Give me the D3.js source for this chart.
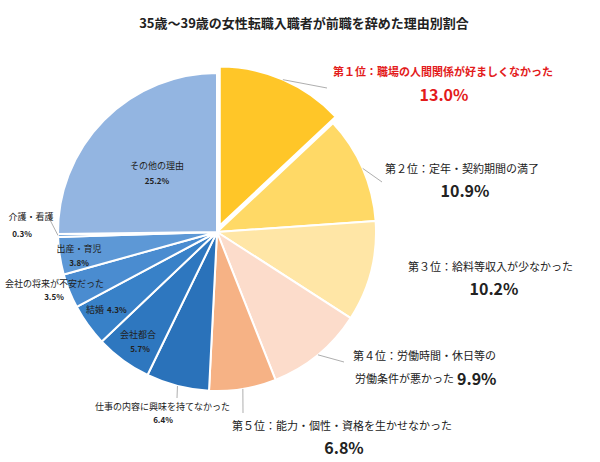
<!DOCTYPE html>
<html><head><meta charset="utf-8">
<script src="https://cdn.jsdelivr.net/npm/d3@7"></script>
<style>body{margin:0;background:#fff}svg{display:block}text{font-family:"Noto Sans CJK JP","Noto Sans",sans-serif}</style>
</head><body>
<svg id="c" width="600" height="462"></svg>
<script>
const title = "35歳～39歳の女性転職入職者が前職を辞めた理由別割合";
const categories = ["職場の人間関係が好ましくなかった","定年・契約期間の満了","給料等収入が少なかった","労働時間・休日等の労働条件が悪かった","能力・個性・資格を生かせなかった","仕事の内容に興味を持てなかった","会社都合","結婚","会社の将来が不安だった","出産・育児","介護・看護","その他の理由"];
const values = [13.0,10.9,10.2,9.9,6.8,6.4,5.7,4.3,3.5,3.8,0.3,25.2];
const colors = ["#FFC628","#FFD966","#FFE6A6","#FCDCCB","#F6B285","#2A72BA","#2E77BF","#3881C8","#4A8CD0","#5D98D6","#6FA3DA","#93B5E1"];

const W=600,H=462,cx=217,cy=232,R=159,explode=7;
const svg=d3.select("#c");
svg.append("text").attr("x",304).attr("y",22).attr("text-anchor","middle").attr("dominant-baseline","central")
  .attr("font-size",13).attr("font-weight","bold").attr("fill","#222").text(title);

const pie=d3.pie().sort(null).value(d=>d)(values);
const arc=d3.arc().innerRadius(0).outerRadius(R);
const g=svg.append("g").attr("transform",`translate(${cx},${cy})`);
function off(d,i){ if(i!==0) return [0,0]; const a=(d.startAngle+d.endAngle)/2; return [Math.sin(a)*explode,-Math.cos(a)*explode]; }
g.selectAll("path").data(pie).join("path")
  .attr("d",arc).attr("fill",(d,i)=>colors[i])
  .attr("stroke","#fff").attr("stroke-width",2).attr("stroke-linejoin","round")
  .attr("transform",(d,i)=>{const o=off(d,i);return `translate(${o[0]},${o[1]})`;});

// leader lines: start on slice edge at mid angle, end near label
const leaders=[[0,327,88],[1,382,182],[3,344,362],[4,243,413],[5,177,398],[10,49,218]];
leaders.forEach(([i,ex,ey])=>{
  const d=pie[i],a=(d.startAngle+d.endAngle)/2,o=off(d,i);
  const sx=cx+o[0]+Math.sin(a)*R, sy=cy+o[1]-Math.cos(a)*R;
  svg.append("line").attr("x1",sx).attr("y1",sy).attr("x2",ex).attr("y2",ey).attr("stroke","#999").attr("stroke-width",0.8);
});

function t(x,y,str,size,opts={}){
  return svg.append("text").attr("x",x).attr("y",y).attr("dominant-baseline","central")
   .attr("text-anchor",opts.anchor||"start").attr("font-size",size)
   .attr("font-weight",opts.bold?"bold":"normal").attr("fill",opts.fill||"#222").text(str);
}
const pct=i=>values[i].toFixed(1)+"%";
const rank=["第１位：","第２位：","第３位：","第４位：","第５位："];
// big labels
t(333,71,rank[0]+categories[0],11,{bold:true,fill:"#E31B1B"});
t(444,94,pct(0),16,{bold:true,anchor:"middle",fill:"#E31B1B"});
t(385,168,rank[1]+categories[1],11);
t(465,190,pct(1),16,{bold:true,anchor:"middle"});
t(408,266,rank[2]+categories[2],11);
t(494,288,pct(2),16,{bold:true,anchor:"middle"});
t(353,355,rank[3]+categories[3].slice(0,9),11);
const l4=t(355,378,categories[3].slice(9),11);
l4.append("tspan").attr("font-size",16).attr("font-weight","bold").attr("dx",3).text(pct(3));
t(232,425,rank[4]+categories[4],11);
t(344,447,pct(4),16,{bold:true,anchor:"middle"});
// small labels
t(95,406,categories[5],9);
t(163,419,pct(5),8,{bold:true,anchor:"middle"});
t(138,334,categories[6],9,{anchor:"middle"});
t(140,348,pct(6),8,{bold:true,anchor:"middle"});
const l7=t(86,309,categories[7],9);
l7.append("tspan").attr("font-size",8).attr("font-weight","bold").attr("dx",3).text(pct(7));
t(5,283,categories[8],9);
t(54,296,pct(8),8,{bold:true,anchor:"middle"});
t(79,248,categories[9],9,{anchor:"middle"});
t(79,262,pct(9),8,{bold:true,anchor:"middle"});
t(31,216,categories[10],9,{anchor:"middle"});
t(22,233,pct(10),8,{bold:true,anchor:"middle"});
t(157,165,categories[11],9,{anchor:"middle"});
t(157,180,pct(11),8,{bold:true,anchor:"middle"});
</script>
</body></html>
